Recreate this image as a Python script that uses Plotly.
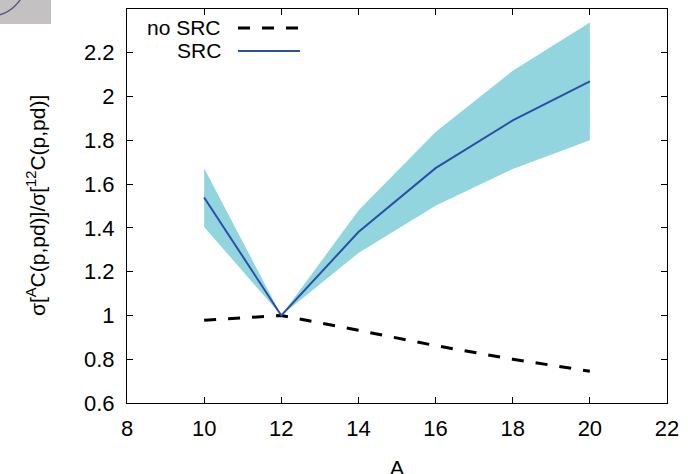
import plotly.graph_objects as go

A_vals = [10, 12, 14, 16, 18, 20]
no_src = [0.978, 1.0, 0.932, 0.862, 0.800, 0.745]
src = [1.539, 1.0, 1.381, 1.673, 1.891, 2.069]
src_low = [1.404, 1.0, 1.285, 1.501, 1.669, 1.800]
src_high = [1.673, 1.0, 1.479, 1.838, 2.118, 2.338]
x_ticks = [8, 10, 12, 14, 16, 18, 20, 22]
y_ticks = [0.6, 0.8, 1.0, 1.2, 1.4, 1.6, 1.8, 2.0, 2.2]

FONT = "Liberation Sans, Arial, sans-serif"
BAND = "#92d5df"
BLUE = "#2b4fa6"

fig = go.Figure()
fig.add_trace(go.Scatter(x=A_vals, y=src_low, mode="lines",
                         line=dict(width=0, color=BAND), showlegend=False,
                         hoverinfo="skip"))
fig.add_trace(go.Scatter(x=A_vals, y=src_high, mode="lines", fill="tonexty",
                         fillcolor=BAND, line=dict(width=0, color=BAND),
                         showlegend=False, hoverinfo="skip"))
fig.add_trace(go.Scatter(x=A_vals, y=no_src, mode="lines", name="no SRC",
                         line=dict(color="black", width=3, dash="12px,12px"),
                         showlegend=False))
fig.add_trace(go.Scatter(x=A_vals, y=src, mode="lines", name="SRC",
                         line=dict(color=BLUE, width=2), showlegend=False))

axis_common = dict(showline=True, linecolor="black", linewidth=1.2, mirror="allticks",
                   ticks="inside", ticklen=6, tickcolor="black", tickwidth=1,
                   showgrid=False, zeroline=False,
                   tickfont=dict(family=FONT, size=22, color="black"))
fig.update_xaxes(range=[8, 22], tickvals=x_ticks, ticklabelstandoff=5, **axis_common)
fig.update_yaxes(range=[0.6, 2.4], tickvals=y_ticks, ticklabelstandoff=7, **axis_common)

L, R, T, B = 127, 21, 9, 71
W, H = 688, 474
pw, ph = W - L - R, H - T - B

def px(x):
    return (x - L) / pw

def py(y):
    return 1 - (y - T) / ph

annotations = [
    dict(text="no SRC", x=px(223), y=py(28), xref="paper", yref="paper",
         xanchor="right", yanchor="middle", showarrow=False,
         font=dict(family=FONT, size=21, color="black")),
    dict(text="SRC", x=px(223), y=py(51), xref="paper", yref="paper",
         xanchor="right", yanchor="middle", showarrow=False,
         font=dict(family=FONT, size=21, color="black")),
    dict(text="A", x=0.5, y=py(467), xref="paper", yref="paper",
         xanchor="center", yanchor="middle", showarrow=False,
         font=dict(family=FONT, size=21, color="black")),
    dict(text="σ[<sup>A</sup>C(p,pd)]/σ[<sup>12</sup>C(p,pd)]", x=px(36), y=0.5,
         xref="paper", yref="paper", xanchor="center", yanchor="middle",
         textangle=-90, showarrow=False,
         font=dict(family=FONT, size=21, color="black")),
]

shapes = [
    dict(type="line", xref="paper", yref="paper", x0=px(238), x1=px(300),
         y0=py(28), y1=py(28), line=dict(color="black", width=3, dash="12px,12px")),
    dict(type="line", xref="paper", yref="paper", x0=px(238), x1=px(300),
         y0=py(51), y1=py(51), line=dict(color=BLUE, width=2)),
    dict(type="rect", xref="paper", yref="paper", x0=px(0), x1=px(51),
         y0=py(24), y1=py(0), fillcolor="#c3c1c2", line=dict(width=0), layer="above"),
    dict(type="circle", xref="paper", yref="paper", x0=px(-46), x1=px(26),
         y0=py(16), y1=py(-56), line=dict(color="#5c5c78", width=1.5), layer="above"),
]

fig.update_layout(width=W, height=H, margin=dict(l=L, r=R, t=T, b=B),
                  paper_bgcolor="white", plot_bgcolor="white",
                  annotations=annotations, shapes=shapes, showlegend=False)

fig.write_html("out.html", config={"displayModeBar": False},
               post_script="document.body.style.margin='0';document.body.style.overflow='hidden';")
